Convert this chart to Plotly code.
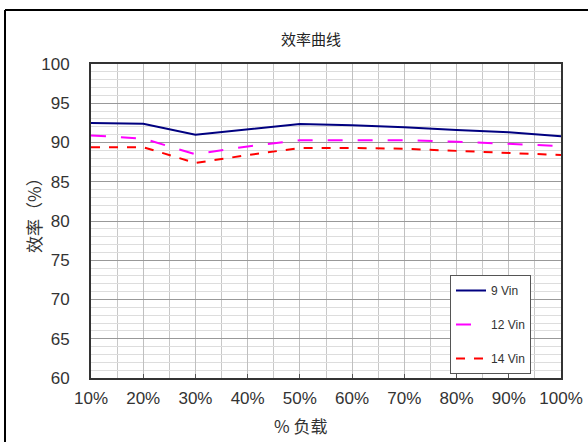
import plotly.graph_objects as go

load = [10, 20, 30, 40, 50, 60, 70, 80, 90, 100]
vin9 = [92.5, 92.4, 91.0, 91.7, 92.35, 92.2, 91.95, 91.6, 91.3, 90.8]
vin12 = [90.9, 90.5, 88.5, 89.5, 90.3, 90.3, 90.3, 90.1, 89.8, 89.55]
vin14 = [89.4, 89.4, 87.4, 88.4, 89.3, 89.3, 89.2, 88.95, 88.7, 88.4]
names = ["9 Vin", "12 Vin", "14 Vin"]
colors = ["#000080", "#FF00FF", "#FF0000"]
dashes = ["solid", "longdash", "dash"]
series = [vin9, vin12, vin14]
x_ticks = [10, 20, 30, 40, 50, 60, 70, 80, 90, 100]
x_ticklabels = [f"{v}%" for v in x_ticks]
x_title = "% 负载"
y_title = "效率（%）"
chart_title = "效率曲线"

W, H = 588, 442
L, R, T, B = 91, 561, 64, 378
PW, PH = R - L, B - T

fig = go.Figure()
for i, (n, s) in enumerate(zip(names, series)):
    fig.add_trace(go.Scatter(x=load, y=s, name=n, mode="lines",
                             line=dict(color=colors[i], width=2, dash=dashes[i]),
                             legendgroup=n))

font = "Liberation Sans, Arial, Noto Sans CJK SC, sans-serif"
cjk = "Noto Sans CJK SC, sans-serif"
fig.update_layout(
    width=W, height=H,
    margin=dict(l=L, r=W - R, t=T, b=H - B, pad=0, autoexpand=False),
    paper_bgcolor="white", plot_bgcolor="white",
    font=dict(family=font, color="#333333", size=17),
    title=dict(text=chart_title, x=311 / W, xanchor="center", y=1 - 40 / H, yanchor="middle",
               font=dict(size=15, color="#222222", family=cjk)),
    xaxis=dict(range=[10, 100], tickvals=x_ticks, ticktext=x_ticklabels,
               showgrid=True, gridcolor="#c0c0c0", gridwidth=1,
               minor=dict(dtick=5, tick0=0, showgrid=True, gridcolor="#c8c8c8", gridwidth=1),
               showline=True, linecolor="#333333", linewidth=2, mirror=True,
               ticks="inside", ticklen=4, tickcolor="#555555", ticklabelstandoff=4,
               zeroline=False, tickfont=dict(size=17, color="#333333"), automargin=False),
    yaxis=dict(range=[60, 100], dtick=5, tick0=60,
               showgrid=True, gridcolor="#999999", gridwidth=1,
               minor=dict(dtick=1, tick0=60, showgrid=True, gridcolor="#dddddd", gridwidth=1),
               showline=True, linecolor="#333333", linewidth=2, mirror=True,
               ticks="", zeroline=False, ticklabelstandoff=16, automargin=False,
               tickfont=dict(size=17, color="#333333")),
    legend=dict(x=(450 - L) / PW, y=(B - 275) / PH, xanchor="left", yanchor="top",
                bgcolor="white", bordercolor="#555555", borderwidth=1,
                font=dict(size=12, color="#333333"), tracegroupgap=15,
                itemwidth=30, entrywidth=75),
    showlegend=True,
)

fig.add_annotation(text=x_title, xref="paper", yref="paper",
                   x=(300 - L) / PW, y=(B - 425) / PH, xanchor="center", yanchor="middle",
                   showarrow=False, font=dict(size=17, color="#333333", family=cjk))
fig.add_annotation(text=y_title, xref="paper", yref="paper", textangle=-90,
                   x=(33 - L) / PW, y=(B - 211) / PH, xanchor="center", yanchor="middle",
                   showarrow=False, font=dict(size=17, color="#333333", family=cjk))

# outer frame
fx0 = (5 - L) / PW
fy1 = (B - 10) / PH
fy0 = (B - 445) / PH
fx1 = (590 - L) / PW
fig.add_shape(type="line", xref="paper", yref="paper", x0=fx0, x1=fx1, y0=fy1, y1=fy1,
              line=dict(color="black", width=2))
fig.add_shape(type="line", xref="paper", yref="paper", x0=fx0, x1=fx0, y0=fy0, y1=fy1,
              line=dict(color="black", width=2))

fig.write_html("out.html", config={"displayModeBar": False},
               post_script="document.body.style.margin='0';document.body.style.overflow='hidden';")
